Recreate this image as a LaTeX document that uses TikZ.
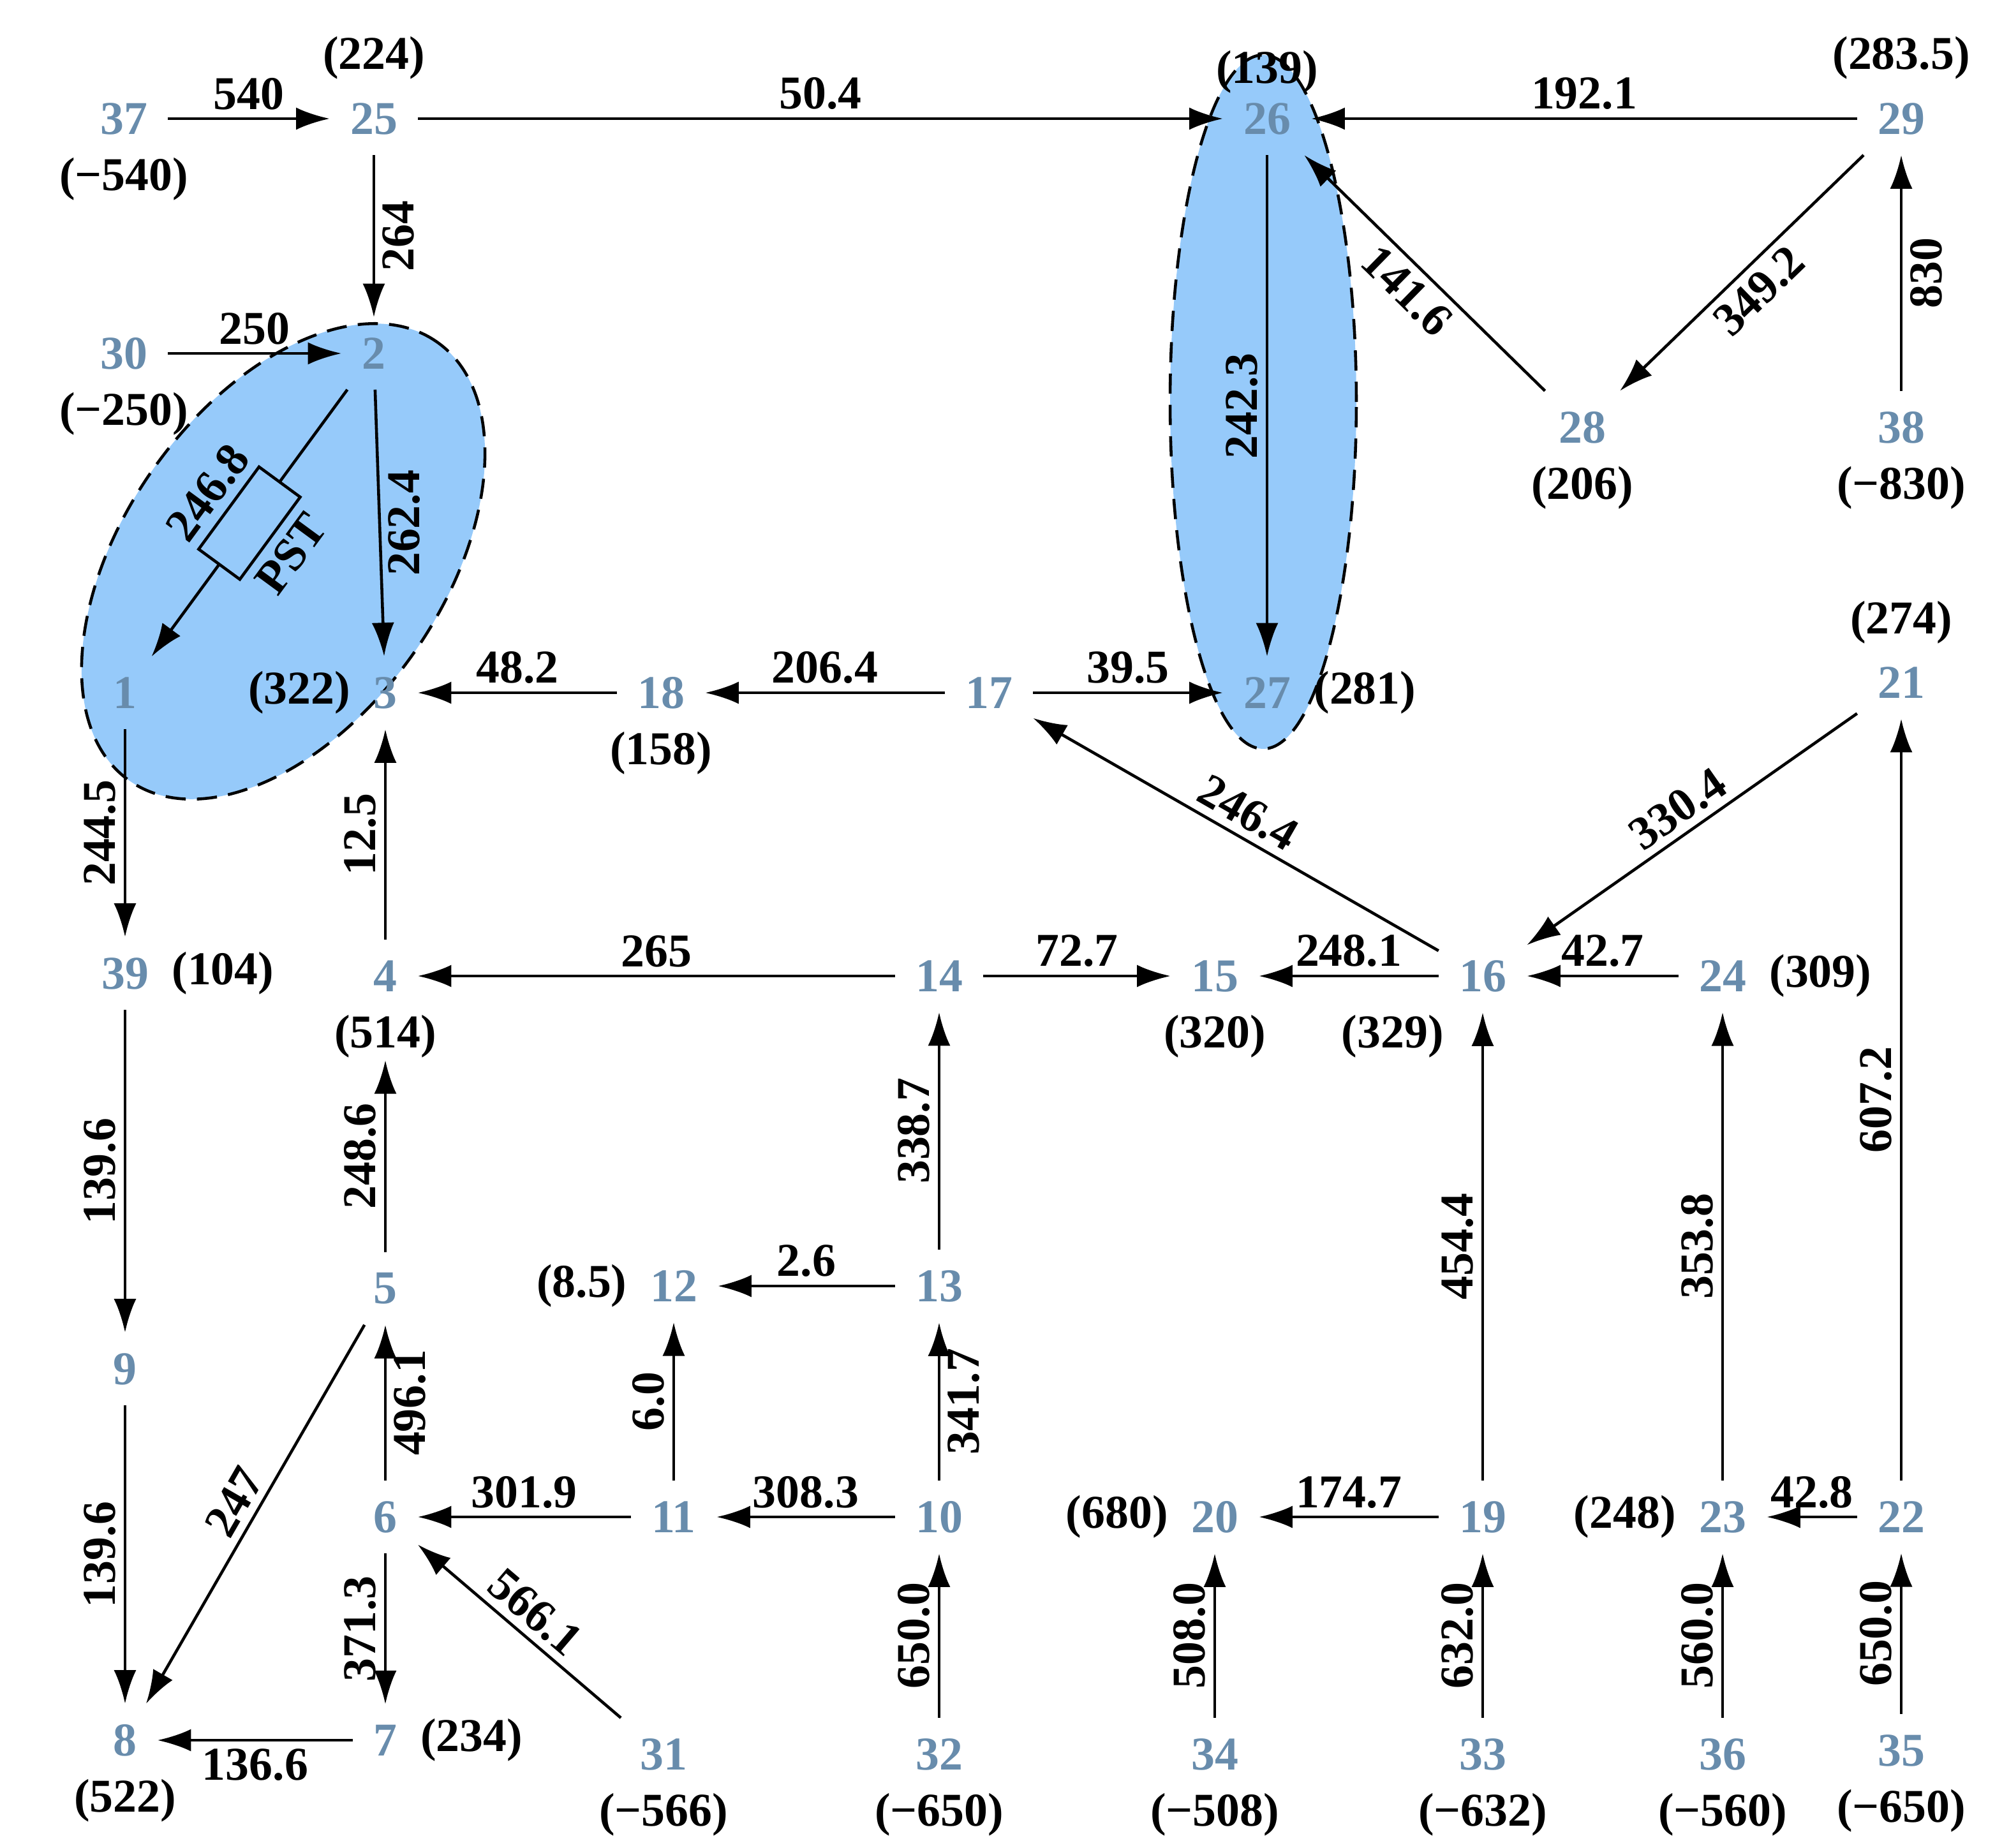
\documentclass[tikz,border=0pt]{standalone}
\usepackage{fontspec}
\setmainfont{Liberation Serif}
\usetikzlibrary{arrows.meta}
\definecolor{nodeblue}{RGB}{104,140,172}
\definecolor{zoneblue}{RGB}{150,202,250}
\begin{document}
\begin{tikzpicture}[x=0.02cm,y=-0.02cm,
    font=\fontsize{21}{25}\selectfont\bfseries,
    st/.style={text=nodeblue,inner sep=9pt},
    every label/.style={text=black,inner sep=1pt},
    e/.style={-{Latex[length=15pt,width=10pt]},line width=1.3pt},
    zone/.style={fill=zoneblue,line width=1.3pt,dash pattern=on 9pt off 5pt},
    ab/.style={midway,above},
    vr/.style={midway,rotate=90,anchor=north},
    vl/.style={midway,rotate=90,anchor=south}]
\useasboundingbox (0,0) rectangle (1563.5,1448);

% zones
\draw[zone,rotate around={55:(222,440)}]
    (222,440) ellipse [x radius=4.2cm,y radius=2.5cm];
\draw[zone] (990,315) ellipse [x radius=1.46cm,y radius=5.44cm];

% nodes
\node[st,label=below:{(−540)}] (n37) at (97,93) {37};
\node[st,label=above:{(224)}] (n25) at (293,93) {25};
\node[st,label={[yshift=-6pt]above:{(139)}}] (n26) at (993,93) {26};
\node[st,label=above:{(283.5)}] (n29) at (1490,93) {29};
\node[st,label=below:{(−250)}] (n30) at (97,277) {30};
\node[st] (n2) at (293,277) {2};
\node[st,label=below:{(206)}] (n28) at (1240,335) {28};
\node[st,label=below:{(−830)}] (n38) at (1490,335) {38};
\node[st] (n1) at (98,543) {1};
\node[st,label=left:{(322)}] (n3) at (302,543) {3};
\node[st,label=below:{(158)}] (n18) at (518,543) {18};
\node[st] (n17) at (775,543) {17};
\node[st,label=right:{(281)}] (n27) at (993,543) {27};
\node[st,label=above:{(274)}] (n21) at (1490,535) {21};
\node[st,label=right:{(104)}] (n39) at (98,763) {39};
\node[st,label={[name=l4]below:{(514)}}] (n4) at (302,765) {4};
\node[st] (n14) at (736,765) {14};
\node[st,label=below:{(320)}] (n15) at (952,765) {15};
\node[st,label=below left:{(329)}] (n16) at (1162,765) {16};
\node[st,label=right:{(309)}] (n24) at (1350,765) {24};
\node[st] (n5) at (302,1010) {5};
\node[st,label=left:{(8.5)}] (n12) at (528,1008) {12};
\node[st] (n13) at (736,1008) {13};
\node[st] (n9) at (98,1073) {9};
\node[st] (n6) at (302,1189) {6};
\node[st] (n11) at (528,1189) {11};
\node[st] (n10) at (736,1189) {10};
\node[st,label=left:{(680)}] (n20) at (952,1189) {20};
\node[st] (n19) at (1162,1189) {19};
\node[st,label=left:{(248)}] (n23) at (1350,1189) {23};
\node[st] (n22) at (1490,1189) {22};
\node[st,label=below:{(522)}] (n8) at (98,1364) {8};
\node[st,label=right:{(234)}] (n7) at (302,1364) {7};
\node[st,label=below:{(−566)}] (n31) at (520,1375) {31};
\node[st,label=below:{(−650)}] (n32) at (736,1375) {32};
\node[st,label=below:{(−508)}] (n34) at (952,1375) {34};
\node[st,label=below:{(−632)}] (n33) at (1162,1375) {33};
\node[st,label=below:{(−560)}] (n36) at (1350,1375) {36};
\node[st,label=below:{(−650)}] (n35) at (1490,1372) {35};

% connectors
\draw[e] (n37) -- node[ab] {540} (n25);
\draw[e] (n25) -- node[ab] {50.4} (n26);
\draw[e] (n29) -- node[ab] {192.1} (n26);
\draw[e] (n25) -- node[vr] {264} (n2);
\draw[e] (n30) -- node[ab] {250} (n2);
\draw[e] (n2) -- node[midway,sloped,above=12pt] {246.8}
    node[midway,sloped,below=12pt] {PST}
    node[midway,sloped,draw,fill=zoneblue,minimum width=1.6cm,minimum height=0.8cm] {} (n1);
\draw[e] (n2) -- node[vr] {262.4} (n3);
\draw[e] (n26) -- node[vl] {242.3} (n27);
\draw[e] (n28) -- node[midway,sloped,below] {141.6} (n26);
\draw[e] (n29) -- node[midway,sloped,below] {349.2} (n28);
\draw[e] (n38) -- node[vr] {830} (n29);
\draw[e] (n18) -- node[ab] {48.2} (n3);
\draw[e] (n17) -- node[ab] {206.4} (n18);
\draw[e] (n17) -- node[ab] {39.5} (n27);
\draw[e] (n16) -- node[midway,sloped,above] {246.4} (n17);
\draw[e] (n21) -- node[midway,sloped,above] {330.4} (n16);
\draw[e] (n1) -- node[vl] {244.5} (n39);
\draw[e] (n4) -- node[vl] {12.5} (n3);
\draw[e] (n14) -- node[ab] {265} (n4);
\draw[e] (n14) -- node[ab] {72.7} (n15);
\draw[e] (n16) -- node[ab] {248.1} (n15);
\draw[e] (n24) -- node[ab] {42.7} (n16);
\draw[e] (n39) -- node[vl] {139.6} (n9);
\draw[e] (n5) -- node[vl] {248.6} (l4);
\draw[e] (n13) -- node[vl] {338.7} (n14);
\draw[e] (n19) -- node[vl] {454.4} (n16);
\draw[e] (n23) -- node[vl] {353.8} (n24);
\draw[e] (n22) -- node[vl] {607.2} (n21);
\draw[e] (n13) -- node[ab] {2.6} (n12);
\draw[e] (n9) -- node[vl] {139.6} (n8);
\draw[e] (n5) -- node[midway,sloped,above] {247} (n8);
\draw[e] (n6) -- node[vr] {496.1} (n5);
\draw[e] (n11) -- node[vl] {6.0} (n12);
\draw[e] (n10) -- node[vr] {341.7} (n13);
\draw[e] (n11) -- node[ab] {301.9} (n6);
\draw[e] (n10) -- node[ab] {308.3} (n11);
\draw[e] (n19) -- node[ab] {174.7} (n20);
\draw[e] (n22) -- node[ab] {42.8} (n23);
\draw[e] (n6) -- node[vl] {371.3} (n7);
\draw[e] (n7) -- node[midway,below] {136.6} (n8);
\draw[e] (n31) -- node[midway,sloped,above] {566.1} (n6);
\draw[e] (n32) -- node[vl] {650.0} (n10);
\draw[e] (n34) -- node[vl] {508.0} (n20);
\draw[e] (n33) -- node[vl] {632.0} (n19);
\draw[e] (n36) -- node[vl] {560.0} (n23);
\draw[e] (n35) -- node[vl] {650.0} (n22);
\end{tikzpicture}
\end{document}
